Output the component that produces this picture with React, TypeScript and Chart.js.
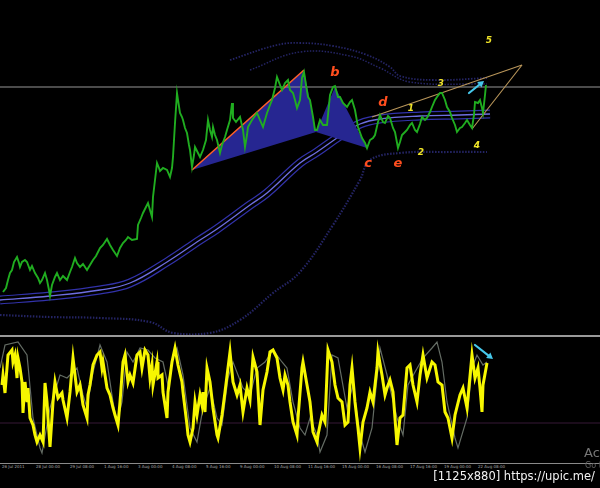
import React, { useEffect, useRef } from 'react';
import { Chart, registerables } from 'chart.js';
Chart.register(...registerables);

// ---------- main panel (price) ----------
const priceT = [3,6,8,10,12,14,17,19,20,22,25,27,30,32,35,38,40,42,45,47,49,50,52,55,57,60,63,67,70,72,75,77,80,83,87,90,93,96,100,103,107,110,113,117,120,123,126,128,132,137,138,141,143,146,148,150,152,153,155,157,159,160,163,167,170,172,173,174,175,177,178,180,182,183,185,187,189,190,192,194,195,198,200,203,206,208,210,212,213,215,217,220,222,225,227,230,232,233,236,240,243,245,247,248,252,257,260,263,265,267,270,272,275,277,280,282,285,288,290,293,295,297,300,302,304,306,308,310,313,315,317,320,323,327,330,333,335,338,340,343,347,350,352,355,358,362,365,367,370,373,375,378,380,383,385,388,390,393,395,398,400,402,405,407,410,412,415,417,420,422,425,427,430,432,435,437,440,442,445,447,450,452,455,457,460,462,465,467,470,472,474,475,478,480,482,483,485,486];
const priceV = [43,47,55,62,65,73,78,72,68,73,75,73,65,69,62,57,52,55,62,55,45,39,50,58,62,55,59,55,63,68,77,72,68,71,65,70,75,79,87,90,96,90,85,79,87,92,95,98,95,96,110,117,122,128,132,125,118,138,155,172,167,164,167,165,158,167,178,195,212,242,235,222,218,215,207,202,190,185,168,180,188,182,178,185,195,215,205,198,208,200,195,182,190,198,205,215,232,217,213,218,205,188,200,208,215,222,215,208,215,222,230,235,247,258,250,245,252,255,245,242,235,227,235,257,263,250,238,235,218,205,205,215,210,210,240,248,249,238,238,232,228,233,235,225,208,197,192,187,195,197,200,213,220,213,212,219,217,207,203,187,193,200,203,205,210,212,205,203,211,218,215,217,223,228,235,238,242,242,235,228,223,217,210,203,207,208,212,215,210,207,220,233,232,235,227,222,240,250];

const maT = [0,50,100,130,167,200,217,250,267,300,317,340,360,380,420,460,490];
const maV = [35,39,45,52,73,95,106,130,142,172,183,199,211,216,219,220,221];
const lowEnvT = [0,50,100,150,173,210,240,273,300,333,360,370,400,450,487];
const lowEnvV = [20,18,17,13,2,2,15,42,63,110,155,175,182,183,183];
const upEnvT = [230,277,300,333,367,390,400,433,487];
const upEnvV = [275,290,292,289,280,268,259,255,257];
const upEnv2T = [250,300,350,380,410,487];
const upEnv2V = [265,283,279,267,253,251];

const tri1TopT = [192,304,316];
const tri1TopV = [165,265,203];
const tri1BotT = [192,316];
const tri1BotV = [165,203];
const tri2TopT = [316,335,367];
const tri2TopV = [203,248,187];
const tri2BotT = [316,367];
const tri2BotV = [203,187];
const orangeT = [192,304];
const orangeV = [165,265];
const tan1T = [372,522];
const tan1V = [218,270];
const tan2T = [472,522];
const tan2V = [206,270];
const levelPrice = 248;

const letterLabels = ['b','d','c','e'];
const letterT = [335,383,368,398];
const letterV = [262,232,171,171];
const waveNums = ['1','2','3','4','5'];
const waveT = [411,421,441,477,489];
const waveV = [226,182,251,189,294];
const mainArrowFrom = [469,242];
const mainArrowTo = [484,254];

// ---------- oscillator panel ----------
const yellowT = [2,3,5,8,12,13,15,17,18,20,22,23,25,27,28,30,33,35,37,40,43,45,47,48,50,53,55,58,62,63,67,70,73,77,80,83,87,88,90,93,97,100,102,103,107,110,113,115,118,120,123,125,128,130,133,137,140,142,145,148,150,152,153,157,158,162,163,167,168,172,175,178,182,183,187,188,190,193,195,197,200,202,203,205,207,210,213,217,218,222,225,228,230,233,237,240,243,247,250,253,257,260,263,267,270,273,277,280,283,285,288,290,293,297,298,302,303,307,310,313,317,318,322,325,328,332,335,338,342,345,348,350,352,355,358,360,363,367,370,373,377,378,382,385,387,390,393,397,400,403,407,410,413,417,420,423,427,432,435,438,442,445,448,452,455,460,463,467,472,475,478,480,482,483,487];
const yellowV = [58,68,50,88,93,81,88,65,85,75,61,30,61,41,55,25,18,8,1,8,1,60,41,25,-4,41,61,45,50,43,25,51,85,51,58,38,25,48,58,78,88,91,75,81,55,48,35,28,18,41,81,88,61,68,60,88,91,75,93,88,65,78,58,81,65,68,51,25,51,81,95,78,61,51,18,8,1,15,41,28,48,38,51,31,75,61,35,8,5,28,51,75,91,61,48,58,31,55,43,86,71,18,53,71,91,93,85,65,53,68,58,41,21,8,25,75,81,58,41,11,1,8,28,21,93,81,58,45,41,18,21,58,75,41,15,-5,21,35,51,41,75,91,68,48,55,63,51,-2,25,28,75,78,58,41,68,88,65,81,78,61,58,31,25,5,28,48,55,35,88,65,75,55,31,58,80];
const greyT = [0,5,18,27,33,40,42,50,60,67,77,83,87,93,100,107,113,117,122,127,133,140,148,155,163,168,173,177,183,190,197,203,210,217,222,228,233,243,250,257,265,273,282,287,293,300,305,310,317,320,327,332,338,347,353,360,365,372,380,387,397,403,408,415,423,432,437,442,447,455,458,467,472,477,483,487];
const greyV = [75,98,101,88,25,-5,-10,35,68,65,75,48,35,71,98,81,41,21,41,91,81,95,93,85,81,58,88,95,68,15,1,35,55,25,18,65,81,55,48,75,81,93,81,75,41,15,8,25,8,-9,8,88,85,35,58,8,-9,15,95,68,25,8,58,71,85,95,101,81,41,5,-5,25,75,88,78,81];
const oscLevel = 20;
const oscArrowFrom = [475,98];
const oscArrowTo = [493,84];

const timeLabels = ['26 Jul 2011','28 Jul 00:00','29 Jul 08:00','1 Aug 16:00','3 Aug 00:00','4 Aug 08:00','5 Aug 16:00','9 Aug 00:00','10 Aug 08:00','11 Aug 16:00','15 Aug 00:00','16 Aug 08:00','17 Aug 16:00','19 Aug 00:00','22 Aug 08:00'];

const pts = (ts: number[], vs: number[]) => ts.map((t, i) => ({ x: t, y: vs[i] }));

function drawArrow(chart: any, from: number[], to: number[], color: string) {
  const { ctx, scales } = chart;
  const x1 = scales.x.getPixelForValue(from[0]);
  const y1 = scales.y.getPixelForValue(from[1]);
  const x2 = scales.x.getPixelForValue(to[0]);
  const y2 = scales.y.getPixelForValue(to[1]);
  const a = Math.atan2(y2 - y1, x2 - x1);
  const h = 6, w = 3.5;
  ctx.save();
  ctx.strokeStyle = color;
  ctx.fillStyle = color;
  ctx.lineWidth = 2.2;
  ctx.lineCap = 'round';
  ctx.beginPath();
  ctx.moveTo(x1, y1);
  ctx.lineTo(x2 - 4 * Math.cos(a), y2 - 4 * Math.sin(a));
  ctx.stroke();
  ctx.beginPath();
  ctx.moveTo(x2, y2);
  ctx.lineTo(x2 - h * Math.cos(a) + w * Math.sin(a), y2 - h * Math.sin(a) - w * Math.cos(a));
  ctx.lineTo(x2 - h * Math.cos(a) - w * Math.sin(a), y2 - h * Math.sin(a) + w * Math.cos(a));
  ctx.closePath();
  ctx.fill();
  ctx.restore();
}

const line = (data: any[], color: string, width: number, order: number, extra: any = {}) => ({
  data,
  borderColor: color,
  borderWidth: width,
  pointRadius: 0,
  fill: false,
  tension: 0,
  order,
  ...extra,
});

const baseOptions = (ymin: number, ymax: number) => ({
  animation: false as const,
  responsive: false,
  maintainAspectRatio: false,
  events: [] as any[],
  layout: { padding: 0 },
  plugins: { legend: { display: false }, tooltip: { enabled: false } },
  scales: {
    x: { type: 'linear' as const, min: 0, max: 600, display: false },
    y: { type: 'linear' as const, min: ymin, max: ymax, display: false },
  },
});

export default function App() {
  const mainRef = useRef<HTMLCanvasElement>(null);
  const oscRef = useRef<HTMLCanvasElement>(null);

  useEffect(() => {
    document.body.style.margin = '0';
    document.body.style.background = '#000';
    const transparent = 'rgba(0,0,0,0)';
    const navy = 'rgb(38,38,145)';
    const bandOuter = 'rgb(50,50,170)';
    const bandInner = 'rgb(110,110,225)';
    const dotted = 'rgb(36,36,100)';

    const mainLabels = {
      id: 'mainLabels',
      afterDatasetsDraw(chart: any) {
        const { ctx, scales } = chart;
        ctx.save();
        ctx.textAlign = 'center';
        ctx.textBaseline = 'middle';
        ctx.font = 'italic bold 13px "DejaVu Sans", sans-serif';
        ctx.fillStyle = 'rgb(255,78,30)';
        letterLabels.forEach((l, i) => {
          ctx.fillText(l, scales.x.getPixelForValue(letterT[i]), scales.y.getPixelForValue(letterV[i]));
        });
        ctx.font = 'italic bold 9px "DejaVu Sans", sans-serif';
        ctx.fillStyle = 'rgb(240,228,40)';
        waveNums.forEach((l, i) => {
          ctx.fillText(l, scales.x.getPixelForValue(waveT[i]), scales.y.getPixelForValue(waveV[i]));
        });
        ctx.restore();
        drawArrow(chart, mainArrowFrom, mainArrowTo, 'rgb(70,200,235)');
      },
    };

    const main = new Chart(mainRef.current as HTMLCanvasElement, {
      type: 'line',
      data: {
        datasets: [
          line(pts(priceT, priceV), '#20ad20', 1.9, 1),
          line(pts(tri1TopT, tri1TopV), transparent, 1, 40, { fill: '+1', backgroundColor: navy }),
          line(pts(tri1BotT, tri1BotV), transparent, 1, 41),
          line(pts(tri2TopT, tri2TopV), transparent, 1, 40, { fill: '+1', backgroundColor: navy }),
          line(pts(tri2BotT, tri2BotV), transparent, 1, 41),
          line(pts(orangeT, orangeV), 'rgb(255,95,40)', 1.6, 5),
          line(pts(tan1T, tan1V), 'rgb(185,150,90)', 1.1, 6),
          line(pts(tan2T, tan2V), 'rgb(185,150,90)', 1.1, 6),
          line([{ x: 0, y: levelPrice }, { x: 600, y: levelPrice }], 'rgb(150,150,150)', 1, 30),
          line(pts(maT, maV), bandOuter, 9, 52, { tension: 0.4, borderJoinStyle: 'round' }),
          line(pts(maT, maV), '#000', 6.6, 51, { tension: 0.4, borderJoinStyle: 'round' }),
          line(pts(maT, maV), bandInner, 1.3, 50, { tension: 0.4, borderJoinStyle: 'round' }),
          line(pts(lowEnvT, lowEnvV), dotted, 2.2, 60, { tension: 0.4, borderDash: [1.5, 1.5] }),
          line(pts(upEnvT, upEnvV), dotted, 1.8, 60, { tension: 0.4, borderDash: [1.5, 1.5] }),
          line(pts(upEnv2T, upEnv2V), dotted, 1.5, 60, { tension: 0.4, borderDash: [1.5, 1.5] }),
        ],
      },
      options: baseOptions(0, 335) as any,
      plugins: [mainLabels],
    });

    const oscArrow = {
      id: 'oscArrow',
      afterDatasetsDraw(chart: any) {
        drawArrow(chart, oscArrowFrom, oscArrowTo, 'rgb(70,200,235)');
      },
    };

    const osc = new Chart(oscRef.current as HTMLCanvasElement, {
      type: 'line',
      data: {
        datasets: [
          line(pts(yellowT, yellowV), '#f7f700', 3, 10),
          line(pts(greyT, greyV), 'rgb(100,108,100)', 1.2, 20),
          line([{ x: 0, y: oscLevel }, { x: 600, y: oscLevel }], 'rgb(55,25,55)', 1, 30),
        ],
      },
      options: baseOptions(-20, 106) as any,
      plugins: [oscArrow],
    });

    return () => {
      main.destroy();
      osc.destroy();
    };
  }, []);

  return (
    <div
      style={{
        position: 'relative',
        width: 600,
        height: 488,
        background: '#000',
        overflow: 'hidden',
        fontFamily: '"DejaVu Sans", sans-serif',
      }}
    >
      <canvas ref={mainRef} width={600} height={335} style={{ position: 'absolute', left: 0, top: 0, width: 600, height: 335 }} />
      <div style={{ position: 'absolute', left: 0, top: 335, width: 600, height: 2, background: '#9a9a9a' }} />
      <canvas ref={oscRef} width={600} height={126} style={{ position: 'absolute', left: 0, top: 337, width: 600, height: 126 }} />
      <div style={{ position: 'absolute', left: 0, top: 463, width: 600, height: 1, background: '#8a8a8a' }} />
      {timeLabels.map((l, i) => (
        <span
          key={i}
          style={{ position: 'absolute', left: 2 + i * 34, top: 464, fontSize: 4, lineHeight: '5px', color: '#a8a8a8', whiteSpace: 'nowrap' }}
        >
          {l}
        </span>
      ))}
      <span style={{ position: 'absolute', left: 584, top: 445, fontSize: 13, lineHeight: '15px', color: '#767676', whiteSpace: 'nowrap' }}>
        Activate Windows
      </span>
      <span style={{ position: 'absolute', left: 585, top: 461, fontSize: 8, lineHeight: '9px', color: '#606060', whiteSpace: 'nowrap' }}>
        Go to Settings to activate Windows.
      </span>
      <span style={{ position: 'absolute', right: 5, top: 468, fontSize: 11.5, lineHeight: '16px', color: '#f2f2f2', whiteSpace: 'nowrap' }}>
        [1125x880] https://upic.me/
      </span>
    </div>
  );
}
